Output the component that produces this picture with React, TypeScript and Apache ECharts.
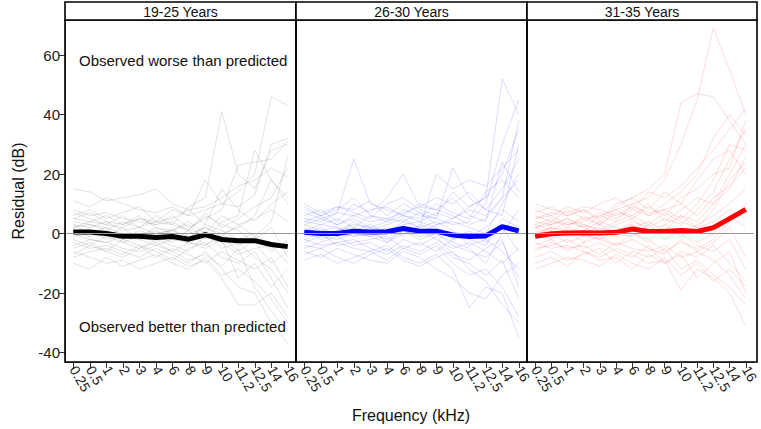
import React, { useEffect, useRef } from "react";
import * as echarts from "echarts";

const freqs = ["0.25", "0.5", "1", "2", "3", "4", "6", "8", "9", "10", "11.2", "12.5", "14", "16"];
const panelTitles = ["19-25 Years", "26-30 Years", "31-35 Years"];
const yTicks = [-40, -20, 0, 20, 40, 60];

const mean1925 = [0.5, 0.5, 0, -0.9, -0.9, -1.3, -1, -1.9, -0.4, -2, -2.4, -2.4, -3.7, -4.4];
const mean2630 = [0.4, 0, 0, 0.8, 0.5, 0.6, 1.7, 0.8, 0.8, -0.5, -1, -0.8, 2.3, 0.9];
const mean3135 = [-0.9, -0.1, 0.2, 0.3, 0.2, 0.4, 1.5, 0.7, 0.7, 1, 0.7, 2, 5, 8.1];

const indiv1925 = [
  [15, 14, 11, 12, 13, 15, 10, 8, 9, 12, 16, 18, 22, 19],
  [5, 4, 6, 3, 5, 4, 8, 6, 18, 10, 14, 20, 46, 43],
  [2, 3, 1, 4, 2, 6, 3, 9, 12, 41, 20, 15, 28, 30],
  [-3, -5, -4, -6, -8, -5, -7, -10, -6, -12, -18, -20, -30, -37],
  [-6, -8, -10, -9, -12, -10, -8, -11, -9, -15, -24, -24, -20, -28],
  [8, 6, 7, 5, 4, 3, 6, 2, 5, 8, 23, 24, 25, 31],
  [0, 1, -2, -1, 0, -3, 2, -4, 1, -5, -3, -8, -12, -20],
  [3, 2, 4, 1, 2, 0, 1, 3, -2, 4, 6, 28, 18, 10],
  [-8, -6, -5, -7, -4, -6, -9, -5, -3, -8, -10, -6, -15, -25],
  [6, 8, 5, 7, 9, 4, 3, 1, 7, 2, 5, 9, 12, 22],
  [-2, -4, -1, -3, -5, -2, -4, -6, -1, -3, -7, -5, -4, -10],
  [4, 3, 2, 0, -1, 2, 0, -2, 3, 1, -2, 0, -5, -3],
  [11, 9, 12, 10, 8, 7, 9, 6, 8, 10, 9, 13, 30, 32],
  [-5, -3, -6, -2, -4, -8, -5, -7, -10, -6, -9, -12, -8, -18],
  [1, -1, 0, -2, 1, -1, -3, 0, 2, -1, 3, 5, 8, 4],
  [-10, -12, -8, -11, -9, -7, -10, -12, -8, -14, -12, -16, -22, -30],
  [7, 5, 3, 6, 2, 4, 5, 8, 3, 15, 8, 4, 10, 14],
  [-4, -2, -3, -5, -6, -4, -2, -3, -5, -2, -15, -10, -18, -12],
  [2, 4, 3, 2, 5, 3, 4, 1, 6, 3, 1, -3, -10, -6],
  [0, -2, -3, -1, -2, -4, -6, -3, -4, -1, -6, -2, 2, -8],
  [-1, 0, 2, -3, -1, 1, -2, 1, -4, 0, 2, 6, 18, 12],
  [5, 7, 4, 3, 6, 2, 1, 4, 0, 6, 3, -1, -6, -2],
  [-7, -4, -6, -8, -5, -3, -6, -9, -7, -11, -5, -18, -26, -33],
  [3, 0, -1, 2, -2, 0, 1, -1, 2, 0, -4, -1, 4, 26],
];

const indiv2630 = [
  [3, 5, 7, 25, 10, 8, 6, 4, 7, 5, 9, 12, 52, 40],
  [-2, -4, -3, -5, -6, -4, -8, -10, -7, -12, -25, -18, -20, -35],
  [8, 6, 9, 7, 5, 10, 12, 8, 6, 14, 9, 12, 20, 35],
  [0, 2, -1, 1, 3, 0, 4, 2, 20, 15, 18, 16, 22, 28],
  [-6, -8, -5, -7, -9, -10, -6, -8, -12, -15, -20, -22, -14, -10],
  [4, 3, 5, 2, 6, 4, 8, 6, 5, 3, 4, 10, 30, 45],
  [-3, -1, -2, 0, -1, -3, 1, -2, 0, -4, -6, -8, -3, -15],
  [2, 0, 1, 3, 2, 1, 3, 4, 2, 0, -2, -4, 5, 2],
  [-9, -7, -10, -8, -6, -9, -5, -7, -4, -10, -14, -12, -18, -28],
  [6, 8, 4, 10, 7, 12, 20, 9, 8, 6, 3, 5, 12, 18],
  [1, -2, 0, -1, 2, -3, 0, 1, -2, -5, -3, -6, -10, -5],
  [5, 4, 7, 6, 4, 5, 7, 9, 12, 10, 14, 8, 15, 25],
  [-4, -5, -3, -2, -5, -7, -4, -6, -3, -8, -10, -14, -9, -22],
  [10, 7, 9, 8, 11, 6, 10, 7, 5, 22, 12, 8, 6, 30],
  [-1, 1, 2, -1, 0, 2, -1, 3, 1, -2, -1, 2, 8, 4],
  [3, 1, 0, 4, 1, 3, 5, 2, 4, 1, -4, -2, -6, -12],
  [-7, -5, -8, -10, -7, -5, -9, -11, -8, -6, -12, -16, -24, -30],
  [7, 5, 3, 6, 8, 9, 6, 5, 10, 7, 5, 14, 18, 12],
  [-2, 0, -4, -3, -2, -1, -5, -3, -6, -2, 1, -3, 2, -6],
  [1, 3, 2, 0, -1, 1, 2, 0, 3, 4, 2, 0, 10, 20],
  [-5, -3, -1, -4, -3, -6, -2, -4, -1, -7, -9, -5, -2, -18],
  [4, 6, 3, 5, 2, 4, 6, 10, 8, 12, 6, 4, 24, 14],
  [0, -1, 1, 2, 0, -2, 1, -1, 0, -3, -5, -10, 0, 8],
  [9, 6, 8, 12, 6, 5, 4, 7, 3, 5, 8, 6, 12, 38],
];

const indiv3135 = [
  [2, 4, 3, 5, 6, 8, 10, 12, 18, 30, 45, 69, 55, 40],
  [5, 7, 6, 8, 4, 9, 12, 15, 20, 44, 47, 46, 38, 30],
  [-3, -5, -4, -6, -8, -5, -7, -10, -9, -19, -12, -15, -20, -31],
  [8, 6, 9, 7, 10, 12, 8, 14, 12, 16, 22, 28, 35, 42],
  [0, 2, 1, -1, 3, 0, 4, 2, 5, 3, 8, 14, 25, 35],
  [-8, -6, -9, -7, -5, -10, -6, -8, -5, -12, -9, -14, -18, -24],
  [4, 3, 5, 2, 6, 4, 10, 6, 8, 5, 10, 18, 30, 28],
  [-2, 0, -3, -1, -2, -4, 0, -2, -6, -3, -5, -2, 4, 10],
  [3, 5, 2, 6, 3, 8, 5, 9, 6, 12, 15, 20, 22, 38],
  [-5, -4, -2, -5, -3, -6, -8, -4, -10, -7, -15, -10, -6, -20],
  [10, 8, 7, 9, 8, 6, 9, 7, 8, 10, 6, 12, 16, 22],
  [1, -1, 2, 0, -2, 1, 3, 0, 2, -1, 3, 6, 10, 15],
  [-12, -10, -8, -9, -11, -7, -10, -12, -8, -14, -10, -16, -12, -18],
  [6, 4, 8, 5, 3, 7, 6, 10, 4, 8, 12, 10, 20, 30],
  [-1, 2, 0, 3, 1, -1, 2, 4, 1, 6, 2, 4, 8, 5],
  [2, 0, -1, 1, 4, 2, 0, -3, 3, 0, -4, -6, -2, -12],
  [-6, -3, -5, -4, -7, -3, -5, -6, -4, -8, -6, -3, 2, -8],
  [7, 9, 6, 8, 5, 10, 12, 8, 14, 10, 18, 25, 28, 20],
  [-4, -2, -6, -3, -1, -4, -2, -5, -7, -2, -6, -9, -14, -22],
  [3, 1, 4, 2, 0, 3, 5, 1, 3, 6, 4, 10, 15, 26],
  [0, -2, 1, -3, 2, 0, -1, 3, -2, 1, -3, 0, 6, 2],
  [5, 6, 3, 4, 7, 5, 8, 6, 10, 14, 20, 32, 40, 33],
  [-10, -8, -11, -6, -9, -8, -12, -7, -10, -6, -8, -4, -10, -16],
  [2, 3, 5, 3, 1, 4, 6, 3, 7, 4, 2, 8, 18, 24],
];

const FONT = "Arial, 'Liberation Sans', sans-serif";

export default function App() {
  const ref = useRef<HTMLDivElement>(null);
  useEffect(() => {
    if (!ref.current) return;
    const chart = echarts.init(ref.current, null, { renderer: "svg" });
    const panels = [
      { left: 65, width: 231, indiv: indiv1925, mean: mean1925, faint: "rgba(110,110,110,0.2)", strong: "#000000" },
      { left: 296, width: 231, indiv: indiv2630, mean: mean2630, faint: "rgba(40,40,255,0.16)", strong: "#0000ff" },
      { left: 527, width: 230, indiv: indiv3135, mean: mean3135, faint: "rgba(255,40,40,0.16)", strong: "#ff0000" },
    ];
    const top = 20;
    const height = 342;
    const grid = panels.map((p) => ({ left: p.left, top, width: p.width, height }));
    const xAxis = panels.map((p, i) => ({
      type: "category",
      gridIndex: i,
      data: freqs,
      boundaryGap: true,
      position: "bottom",
      axisLine: { show: true, onZero: false, lineStyle: { color: "#555", width: 1 } },
      axisTick: { show: true, alignWithLabel: true, length: 6, lineStyle: { color: "#333" } },
      axisLabel: { interval: 0, rotate: -60, fontSize: 14, color: "#222", margin: 5, fontFamily: FONT },
      splitLine: { show: false },
    }));
    const yAxis = panels.map((p, i) => ({
      type: "value",
      gridIndex: i,
      min: -43.2,
      max: 71.8,
      show: i === 0,
      axisLine: { show: true, onZero: false, lineStyle: { color: "#555", width: 1 } },
      axisTick: { show: true, length: 6, customValues: yTicks, lineStyle: { color: "#333" } },
      axisLabel: { customValues: yTicks, fontSize: 15, color: "#222", margin: 5, fontFamily: FONT },
      splitLine: { show: false },
    }));
    const series: any[] = [];
    panels.forEach((p, i) => {
      p.indiv.forEach((vals, k) => {
        series.push({
          type: "line",
          name: `p${i}-${k}`,
          xAxisIndex: i,
          yAxisIndex: i,
          data: vals,
          symbol: "none",
          silent: true,
          lineStyle: { color: p.faint, width: 1 },
          z: 2,
        });
      });
      series.push({
        type: "line",
        name: `zero${i}`,
        xAxisIndex: i,
        yAxisIndex: i,
        data: [],
        z: 3,
        silent: true,
        markLine: {
          symbol: "none",
          silent: true,
          label: { show: false },
          lineStyle: { color: "#999", width: 1, type: "solid" },
          data: [{ yAxis: 0 }],
        },
      });
      series.push({
        type: "line",
        name: `mean${i}`,
        xAxisIndex: i,
        yAxisIndex: i,
        data: p.mean,
        symbol: "none",
        silent: true,
        lineStyle: { color: p.strong, width: 5 },
        z: 4,
      });
    });
    const graphic: any[] = [];
    panels.forEach((p, i) => {
      graphic.push({
        type: "rect",
        shape: { x: p.left, y: top, width: p.width, height },
        style: { fill: "none", stroke: "#000", lineWidth: 1.6 },
        z: 10,
        silent: true,
      });
      graphic.push({
        type: "rect",
        shape: { x: p.left, y: 2, width: p.width, height: 18 },
        style: { fill: "#fff", stroke: "#000", lineWidth: 1.6 },
        z: 10,
        silent: true,
      });
      graphic.push({
        type: "text",
        x: p.left + p.width / 2,
        y: 11.5,
        style: { text: panelTitles[i], fill: "#111", fontSize: 14, fontFamily: FONT, textAlign: "center", textVerticalAlign: "middle" },
        z: 11,
        silent: true,
      });
    });
    graphic.push({
      type: "text",
      x: 79,
      y: 60,
      style: { text: "Observed worse than predicted", fill: "#111", fontSize: 15, fontFamily: FONT, textAlign: "left", textVerticalAlign: "middle" },
      z: 11,
    });
    graphic.push({
      type: "text",
      x: 79,
      y: 326,
      style: { text: "Observed better than predicted", fill: "#111", fontSize: 15, fontFamily: FONT, textAlign: "left", textVerticalAlign: "middle" },
      z: 11,
    });
    graphic.push({
      type: "text",
      x: 411,
      y: 415,
      style: { text: "Frequency (kHz)", fill: "#111", fontSize: 16, fontFamily: FONT, textAlign: "center", textVerticalAlign: "middle" },
      z: 11,
    });
    graphic.push({
      type: "text",
      x: 18,
      y: 191,
      rotation: Math.PI / 2,
      style: { text: "Residual (dB)", fill: "#111", fontSize: 16, fontFamily: FONT, textAlign: "center", textVerticalAlign: "middle" },
      z: 11,
    });
    chart.setOption({
      animation: false,
      backgroundColor: "#fff",
      grid,
      xAxis,
      yAxis,
      series,
      graphic,
    });
    return () => chart.dispose();
  }, []);
  return <div ref={ref} style={{ position: "fixed", left: 0, top: 0, width: 761, height: 429 }} />;
}
